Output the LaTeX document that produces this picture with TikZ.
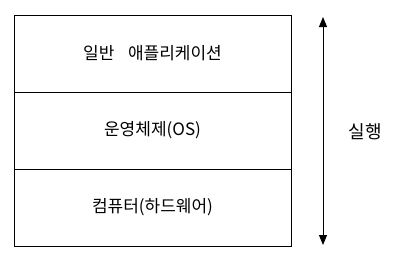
\documentclass[tikz,border=0pt]{standalone}
\usepackage{fontspec}
\newfontfamily\kr{Noto Sans CJK KR}
\usetikzlibrary{arrows.meta}
\begin{document}
\begin{tikzpicture}[x=1pt,y=-1pt,
  layer/.style={draw=black,line width=0.9pt,minimum width=277pt,minimum height=77pt,inner sep=0pt,font=\kr\fontsize{17}{19}\selectfont},
  lbl/.style={font=\kr\fontsize{18}{20}\selectfont,inner sep=0pt}]
\useasboundingbox (0,0) rectangle (398,266);
\node[layer] (app) at (152.5,53.5) {일반\hspace{0.8em}애플리케이션};
\node[layer] (os) at (152.5,130.5) {운영체제(OS)};
\node[layer] (hw) at (152.5,207.5) {컴퓨터(하드웨어)};
\coordinate (top) at (323,17);
\coordinate (bot) at (323,245);
\draw[line width=0.9pt,{Triangle[width=8pt,length=10pt]}-{Triangle[width=8pt,length=10pt]}] (top) -- (bot);
\node[lbl] (run) at (365,132) {실행};
\end{tikzpicture}
\end{document}
